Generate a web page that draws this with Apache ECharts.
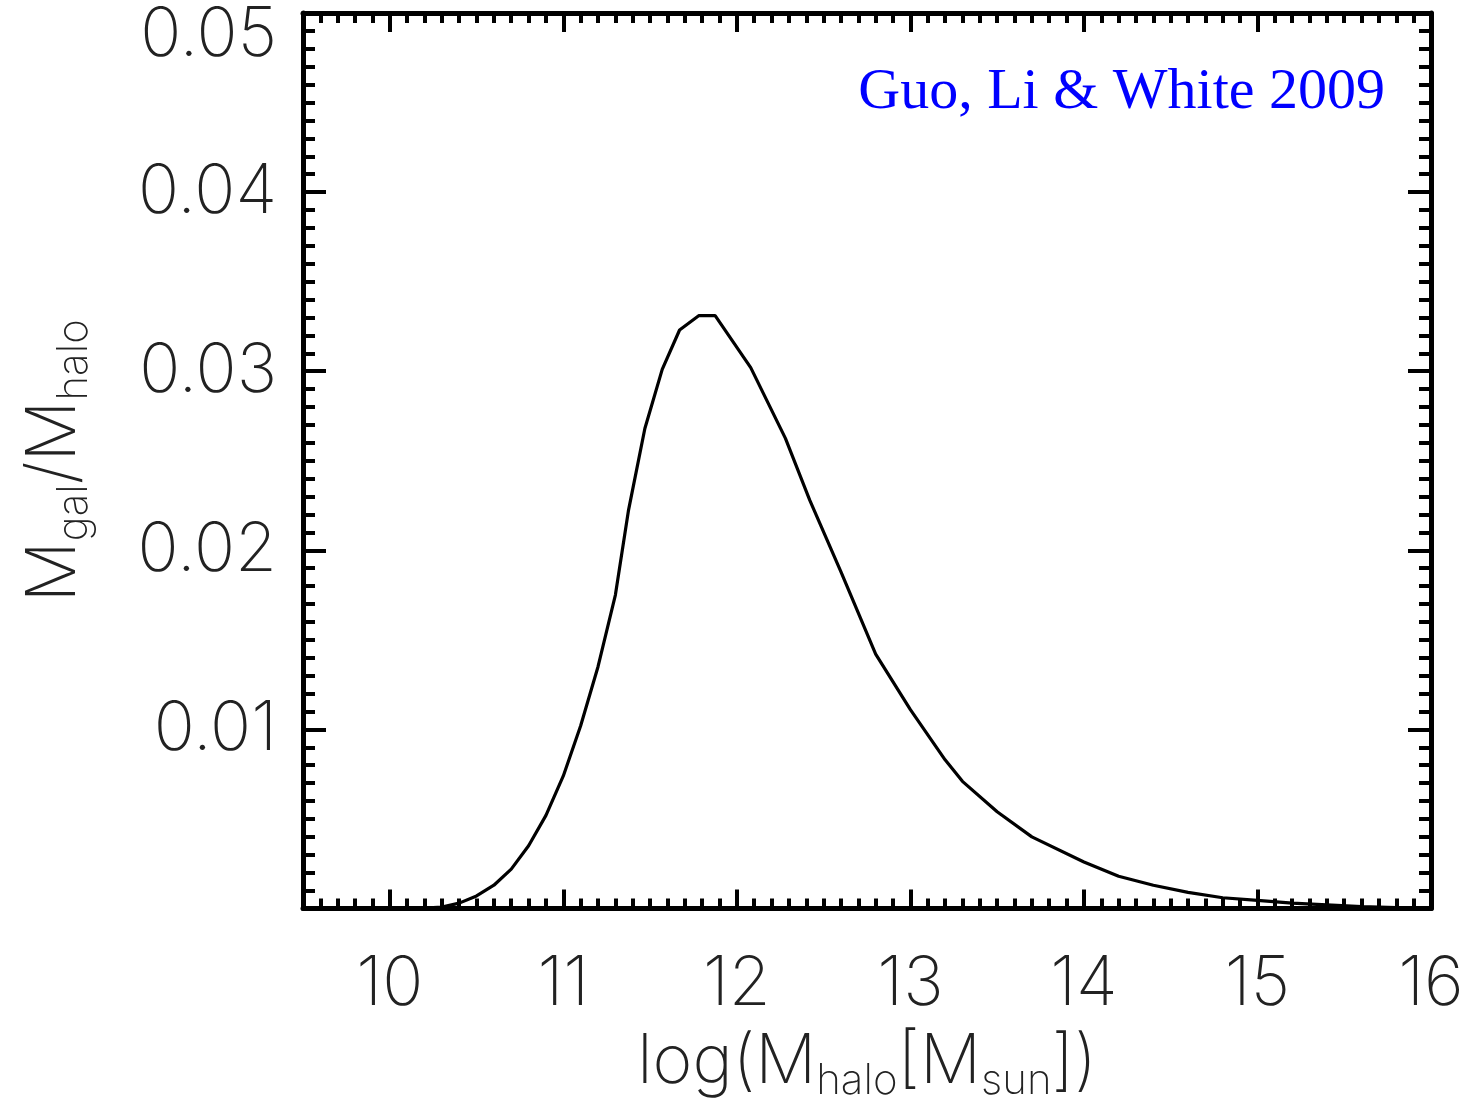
<!DOCTYPE html>
<html>
<head>
<meta charset="utf-8">
<script src="https://cdn.jsdelivr.net/npm/echarts@6/dist/echarts.min.js"></script>
<style>
html,body{margin:0;padding:0;background:#fff;}
#chart{width:1474px;height:1111px;}
</style>
</head>
<body>
<div id="chart"></div>
<script>
// log(M_halo) values
const logMhalo = [10.0, 10.2, 10.3, 10.4, 10.5, 10.6, 10.7, 10.8, 10.9, 11.0, 11.1, 11.2, 11.3, 11.375, 11.47, 11.57, 11.67, 11.78, 11.875, 12.08, 12.28, 12.42, 12.6, 12.8, 13.0, 13.2, 13.3, 13.5, 13.7, 14.0, 14.2, 14.4, 14.6, 14.8, 15.0, 15.2, 15.4, 15.6, 15.8, 16.0];
// M_gal / M_halo values
const ratio = [0.0, 0.00002, 0.00008, 0.0003, 0.0007, 0.0013, 0.0022, 0.0035, 0.0052, 0.0074, 0.0102, 0.0135, 0.0175, 0.0222, 0.0268, 0.0301, 0.0323, 0.0331, 0.0331, 0.0302, 0.02625, 0.0228, 0.0188, 0.0142, 0.0111, 0.0083, 0.0071, 0.0054, 0.0040, 0.0026, 0.0018, 0.0013, 0.0009, 0.0006, 0.00045, 0.0003, 0.0002, 0.0001, 0.00005, 0.00002];
const xMajorTicks = [10, 11, 12, 13, 14, 15, 16];
const yTickLabels = ['', '0.01', '0.02', '0.03', '0.04', '0.05'];
const annotation = 'Guo, Li & White 2009';

const FONT = 'Inter';
const labelColor = '#222';

function xAxisBase(pos) {
  return {
    type: 'value', position: pos, min: 9.5, max: 16, interval: 0.1,
    splitLine: {show: false},
    axisLine: {show: true, onZero: false, lineStyle: {color: '#000', width: 5}},
    axisTick: {show: true, inside: true, length: 10, lineStyle: {color: '#000', width: 4}},
    axisLabel: {show: false}
  };
}
function xAxisMajor(pos) {
  return {
    type: 'value', position: pos, min: 9.5, max: 16, interval: 0.1,
    splitLine: {show: false},
    axisLine: {show: false, onZero: false},
    axisTick: {show: true, inside: true, length: 19, customValues: xMajorTicks, lineStyle: {color: '#000', width: 4}},
    axisLabel: {show: false}
  };
}
function yAxisBase(pos, withLabels) {
  return {
    type: 'value', position: pos, min: 0, max: 0.05, interval: 0.01,
    splitLine: {show: false},
    axisLine: {show: true, onZero: false, lineStyle: {color: '#000', width: 5}},
    axisTick: {show: true, inside: true, length: 23, lineStyle: {color: '#000', width: 4}},
    minorTick: {show: true, splitNumber: 10, length: 12, lineStyle: {color: '#000', width: 4}},
    axisLabel: withLabels ? {
      show: true, margin: 26, fontFamily: FONT, fontWeight: 200, fontSize: 68, color: labelColor,
      formatter: function (v, i) {
        const idx = Math.round(v / 0.01);
        const t = yTickLabels[idx] || '';
        if (idx === 5) return '{top|' + t + '}';
        return t;
      },
      rich: {top: {fontFamily: FONT, fontWeight: 200, fontSize: 68, color: labelColor, padding: [46, 0, 0, 0]}}
    } : {show: false}
  };
}

const xBottom = xAxisBase('bottom');
xBottom.axisLabel = {
  show: true, margin: 42, fontFamily: FONT, fontWeight: 200, fontSize: 68, color: labelColor,
  formatter: function (v) {
    return Math.abs(v - Math.round(v)) < 1e-6 ? String(Math.round(v)) : '';
  }
};
const nameRich = {
  m: {fontFamily: FONT, fontWeight: 200, fontSize: 68, color: labelColor},
  s: {fontFamily: FONT, fontWeight: 200, fontSize: 42, color: labelColor, padding: [38, 0, 0, 0]}
};
xBottom.name = '{m|log(M}{s|halo}{m|[M}{s|sun}{m|])}';
xBottom.nameLocation = 'middle';
xBottom.nameGap = 114;
xBottom.nameTextStyle = {rich: nameRich};

const yLeft = yAxisBase('left', true);
yLeft.name = '{m|M}{s|gal}{m|/M}{s|halo}';
yLeft.nameLocation = 'middle';
yLeft.nameGap = 208;
yLeft.nameTextStyle = {rich: nameRich};

const option = {
  backgroundColor: '#fff',
  animation: false,
  title: {
    text: annotation, right: 89, top: 64, padding: 0,
    textStyle: {fontFamily: 'Liberation Serif', fontWeight: 'normal', fontSize: 58, color: '#0000ff'}
  },
  grid: {left: 303, right: 43, top: 13, bottom: 202.5, containLabel: false, outerBoundsMode: 'none'},
  xAxis: [xBottom, xAxisMajor('bottom'), xAxisBase('top'), xAxisMajor('top')],
  yAxis: [yLeft, yAxisBase('right', false)],
  series: [{
    type: 'line', xAxisIndex: 0, yAxisIndex: 0,
    data: logMhalo.map((x, i) => [x, ratio[i]]),
    showSymbol: false, smooth: false,
    lineStyle: {color: '#000', width: 3.2},
    clip: true
  }]
};
const chart = echarts.init(document.getElementById('chart'), null, {renderer: 'canvas'});
chart.setOption(option);
</script>
</body>
</html>
